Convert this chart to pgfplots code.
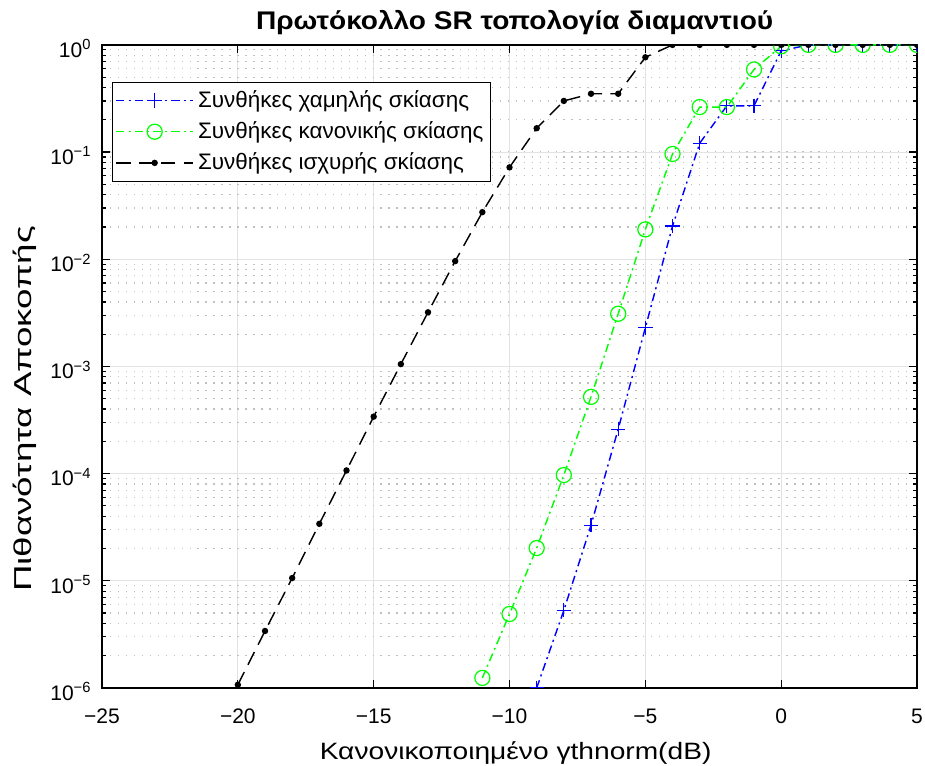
\documentclass[border=0pt]{standalone}
\usepackage{fontspec}
\setmainfont{Liberation Sans}
\newfontfamily\xlabfont{Liberation Sans}[FakeStretch=1.19]
\newfontfamily\ylabfont{Liberation Sans}[FakeStretch=1.5]
\newfontfamily\titlefont{Liberation Sans}[FakeStretch=1.1]
\usepackage{pgfplots}
\pgfplotsset{compat=1.18}
\begin{document}
\begin{tikzpicture}
\begin{semilogyaxis}[
  name=ax,
  scale only axis,
  width=399.5pt, height=315.2pt,
  xmin=-25, xmax=5, ymin=1e-6, ymax=1,
  xtick={-25,-20,...,5},
  xticklabels={−25,−20,−15,−10,−5,0,5},
  ytick={1e-6,1e-5,1e-4,1e-3,1e-2,1e-1,1},
  yticklabels={10\textsuperscript{−6},10\textsuperscript{−5},10\textsuperscript{−4},10\textsuperscript{−3},10\textsuperscript{−2},10\textsuperscript{−1},10\textsuperscript{0}},
  tick label style={font=\fontsize{10.3}{12}\selectfont},
  xticklabel style={anchor=base, yshift=-17.6pt},
  yticklabel style={anchor=base east, yshift=-6pt, xshift=-1.6pt},
  title={Πρωτόκολλο SR τοπολογία διαμαντιού},
  title style={font=\titlefont\bfseries\fontsize{12.5}{14}\selectfont, at={(axis description cs:0.5,1)}, anchor=base, yshift=1.4pt, xshift=2.5pt},
  xlabel={Κανονικοποιημένο γthnorm(dB)},
  xlabel style={font=\xlabfont\fontsize{11.6}{13}\selectfont, at={(axis description cs:0.5,0)}, anchor=base, yshift=-35.3pt, xshift=3pt},
  ylabel={Πιθανότητα Αποκοπής},
  ylabel style={font=\ylabfont\fontsize{12}{14}\selectfont, at={([xshift=-34.5pt]axis description cs:0,0.434)}, anchor=base},
  axis line style={black, line width=0.7pt},
  tick style={black, line width=0.6pt},
  major tick length=4pt, minor tick length=2pt,
  xmajorgrids, ymajorgrids, yminorgrids,
  major grid style={gray!22, line width=0.4pt},
  minor grid style={gray!50, dash pattern=on 0.7pt off 3.2pt, line width=0.6pt},
  clip marker paths=true,
  legend style={at={(0.0123,0.9425)}, anchor=north west, draw=black, line width=0.5pt, fill=white,
    font=\fontsize{11}{13}\selectfont, row sep=1.5pt, inner xsep=1.5pt, inner ysep=2pt},
  legend cell align=left,
  legend image code/.code={\draw[mark repeat=2,mark phase=2,#1] plot coordinates {(0pt,0pt) (18.8pt,0pt) (37.7pt,0pt)};},
]
\addplot[blue, line width=0.7pt, dash pattern=on 4pt off 2pt on 1pt off 2pt, mark=+, mark size=3.5pt, mark options={solid, line width=0.6pt}] coordinates {
(-9,1e-6) (-8,5.3e-6) (-7,3.3e-5) (-6,2.6e-4) (-5,2.3e-3) (-4,2.04e-2) (-3,0.121) (-2,0.27) (-1,0.27) (0,0.88) (1,1) (2,1) (3,1) (4,1) (5,1)};
\addlegendentry{Συνθήκες χαμηλής σκίασης}
\addplot[green, line width=0.7pt, dash pattern=on 4pt off 2pt on 1pt off 2pt, mark=o, mark size=3.7pt, mark options={solid, line width=0.6pt}] coordinates {
(-11,1.24e-6) (-10,4.9e-6) (-9,2.02e-5) (-8,9.7e-5) (-7,5.2e-4) (-6,3.1e-3) (-5,1.9e-2) (-4,0.096) (-3,0.263) (-2,0.263) (-1,0.59) (0,0.97) (1,1) (2,1) (3,1) (4,1) (5,1)};
\addlegendentry{Συνθήκες κανονικής σκίασης}
\addplot[black, line width=0.7pt, dash pattern=on 7pt off 4pt, mark=*, mark size=1.2pt, mark options={solid}] coordinates {
(-20,1.07e-6) (-19,3.4e-6) (-18,1.06e-5) (-17,3.4e-5) (-16,1.07e-4) (-15,3.4e-4) (-14,1.05e-3) (-13,3.2e-3) (-12,9.6e-3) (-11,2.75e-2) (-10,7.2e-2) (-9,0.167) (-8,0.30) (-7,0.35) (-6,0.35) (-5,0.766) (-4,1) (-3,1) (-2,1) (-1,1) (0,1) (1,1) (2,1) (3,1) (4,1) (5,1)};
\addlegendentry{Συνθήκες ισχυρής σκίασης}
\end{semilogyaxis}
\pgfresetboundingbox
\path ([xshift=-50pt,yshift=-38.2pt]ax.south west) rectangle ([xshift=3.9pt,yshift=22pt]ax.north east);
\end{tikzpicture}
\end{document}
